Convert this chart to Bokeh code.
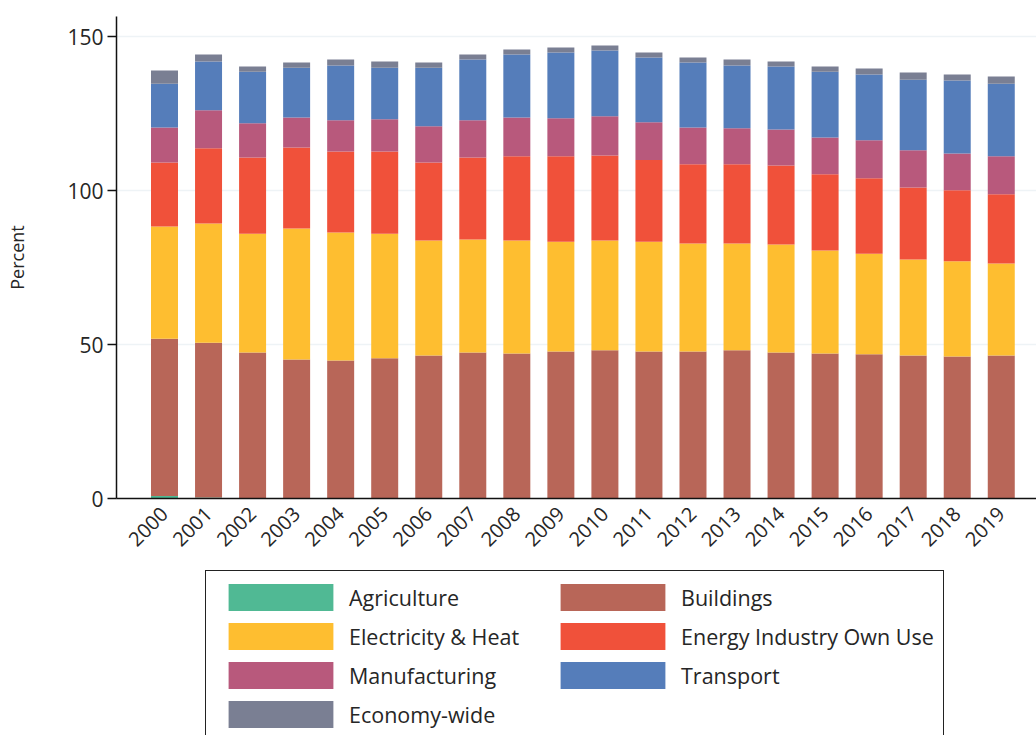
from bokeh.plotting import figure
from bokeh.layouts import column
from bokeh.models import Range1d, FixedTicker, Legend, LegendItem, ColumnDataSource
from bokeh.embed import file_html
from bokeh.resources import INLINE
import math

years = [str(y) for y in range(2000, 2020)]

# cumulative tops (stack order bottom -> top)
agriculture = [0.8, 0.3, 0.0, 0.0, 0.0, 0.0, 0.0, 0.0, 0.0, 0.0,
               0.2, 0.0, 0.0, 0.0, 0.0, 0.0, 0.0, 0.0, 0.0, 0.2]
buildings_top = [51.9, 50.6, 47.4, 45.1, 44.8, 45.5, 46.4, 47.4, 47.1, 47.7,
                 48.1, 47.7, 47.7, 48.1, 47.4, 47.1, 46.8, 46.4, 46.1, 46.4]
electricity_top = [88.3, 89.3, 86.0, 87.7, 86.4, 86.0, 83.8, 84.1, 83.8, 83.4,
                   83.8, 83.4, 82.8, 82.8, 82.5, 80.5, 79.5, 77.6, 77.0, 76.3]
energy_top = [109.1, 113.7, 110.7, 114.0, 112.7, 112.7, 109.1, 110.7, 111.1, 111.1,
              111.4, 109.9, 108.5, 108.5, 108.1, 105.3, 104.0, 101.0, 100.1, 98.8]
manufacturing_top = [120.5, 126.1, 121.8, 123.7, 122.8, 123.1, 120.9, 122.8, 123.7, 123.5,
                     124.1, 122.2, 120.5, 120.2, 119.8, 117.2, 116.3, 113.1, 112.0, 111.1]
transport_top = [134.7, 141.9, 138.6, 139.9, 140.6, 139.9, 139.9, 142.5, 144.2, 144.8,
                 145.5, 143.2, 141.6, 140.6, 140.3, 138.6, 137.7, 136.0, 135.7, 134.7]
economy_top = [139.0, 144.2, 140.3, 141.6, 142.5, 141.9, 141.6, 144.2, 145.8, 146.4,
               147.1, 144.8, 143.2, 142.5, 141.9, 140.3, 139.6, 138.3, 137.7, 137.0]

series_names = ["Agriculture", "Buildings", "Electricity & Heat", "Energy Industry Own Use",
                "Manufacturing", "Transport", "Economy-wide"]
colors = ["#50b994", "#b86658", "#febe30", "#f0513a", "#b8597c", "#557dba", "#7a7f93"]
# legend reading order (filled column by column: 4 rows)
legend_order = [0, 2, 4, 6, 1, 3, 5]

tops = [agriculture, buildings_top, electricity_top, energy_top,
        manufacturing_top, transport_top, economy_top]
values = []
prev = [0.0] * len(years)
for t in tops:
    values.append([max(a - b, 0.0) for a, b in zip(t, prev)])
    prev = t

xs = list(range(len(years)))
data = {"x": xs}
keys = []
for i, v in enumerate(values):
    k = f"s{i}"
    keys.append(k)
    data[k] = v
src = ColumnDataSource(data)

FONT = "Open Sans"
TXT = "#262626"

p = figure(width=1036, height=565, output_backend="svg", toolbar_location=None,
           x_range=Range1d(-1.09, 19.8), y_range=Range1d(0, 156.5),
           min_border_left=116, min_border_right=0, min_border_top=16,
           min_border_bottom=67, outline_line_color=None)

renderers = p.vbar_stack(keys, x="x", width=0.613, source=src, color=colors,
                         line_color=None)

p.xgrid.grid_line_color = None
p.ygrid.grid_line_color = "#eef3f6"
p.ygrid.grid_line_width = 1.5

p.yaxis.ticker = FixedTicker(ticks=[0, 50, 100, 150])
p.yaxis.axis_label = "Percent"
p.yaxis.axis_label_text_font = FONT
p.yaxis.axis_label_text_font_size = "18px"
p.yaxis.axis_label_text_font_style = "normal"
p.yaxis.axis_label_text_color = TXT
p.yaxis.axis_label_standoff = 35
p.yaxis.major_label_text_font = FONT
p.yaxis.major_label_text_font_size = "21px"
p.yaxis.major_label_text_color = TXT
p.yaxis.major_tick_out = 9
p.yaxis.major_tick_in = 0
p.yaxis.minor_tick_line_color = None
p.yaxis.axis_line_color = "#111111"
p.yaxis.axis_line_width = 1.5
p.yaxis.major_tick_line_color = "#111111"
p.yaxis.major_tick_line_width = 1.5
p.yaxis.major_label_standoff = 4

p.xaxis.ticker = FixedTicker(ticks=xs)
p.xaxis.major_label_overrides = {i: y for i, y in enumerate(years)}
p.xaxis.major_label_orientation = math.pi / 4
p.xaxis.major_label_text_font = FONT
p.xaxis.major_label_text_font_size = "20px"
p.xaxis.major_label_text_color = TXT
p.xaxis.major_tick_line_color = None
p.xaxis.minor_tick_line_color = None
p.xaxis.axis_line_color = "#111111"
p.xaxis.axis_line_width = 1.5
p.xaxis.major_label_standoff = 6

# legend panel (same side borders as the chart so frames align)
p2 = figure(width=1036, height=170, output_backend="svg", toolbar_location=None,
            x_range=Range1d(0, 1), y_range=Range1d(0, 1),
            min_border_left=116, min_border_right=0, min_border_top=0,
            min_border_bottom=0, outline_line_color=None)
p2.xaxis.visible = False
p2.yaxis.visible = False
p2.grid.visible = False
dummy = ColumnDataSource({"x": [-5.0], "top": [0.0]})
leg_r = [p2.vbar(x="x", top="top", width=0.1, source=dummy, color=c, line_color=None)
         for c in colors]

items = [LegendItem(label=series_names[i], renderers=[leg_r[i]]) for i in legend_order]
legend = Legend(items=items, ncols=2, location=(89, -6),
                glyph_width=131, glyph_height=34, label_width=193,
                label_text_font=FONT, label_text_font_size="21.5px",
                label_text_color=TXT, label_standoff=3,
                spacing=5, padding=9, margin=0,
                border_line_color="#222222", border_line_width=1.5,
                border_line_alpha=1.0,
                background_fill_color="white", background_fill_alpha=1.0)
p2.add_layout(legend, "center")

layout = column(p, p2, spacing=0)
open("out.html", "w").write(file_html(layout, INLINE))
